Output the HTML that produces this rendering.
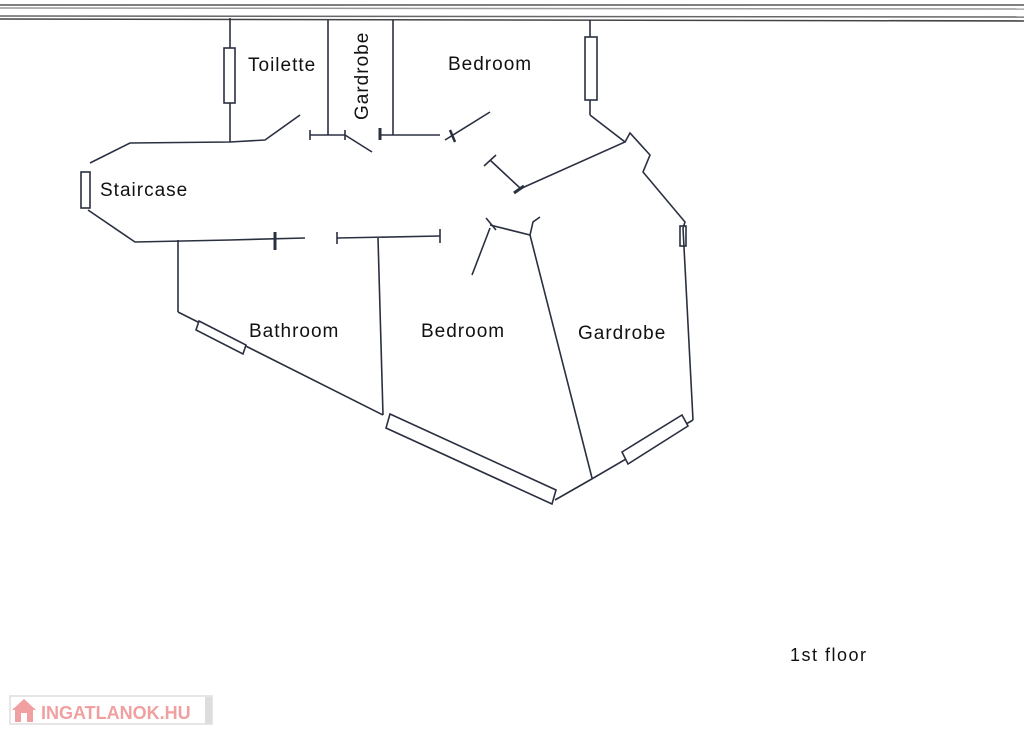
<!DOCTYPE html>
<html><head><meta charset="utf-8"><style>
html,body{margin:0;padding:0;background:#fff;}
svg{display:block;}
text{font-family:"Liberation Sans",sans-serif;fill:#111;}
.l{font-size:19px;letter-spacing:1px;}
</style></head><body>
<svg width="1024" height="735" viewBox="0 0 1024 735" xmlns="http://www.w3.org/2000/svg">
<g stroke="#2a3040" fill="none" stroke-width="1.6">
<line x1="0" y1="5" x2="1024" y2="5" stroke="#555"/>
<line x1="0" y1="8" x2="1024" y2="9" stroke="#999"/>
<line x1="0" y1="16" x2="1024" y2="17" stroke="#666"/>
<line x1="0" y1="19" x2="1024" y2="21" stroke="#444"/>
<line x1="230" y1="18" x2="230" y2="142"/>
<rect x="224" y="48" width="11" height="55" fill="#fff"/>
<line x1="328" y1="20" x2="328" y2="135"/>
<line x1="393" y1="20" x2="393" y2="135"/>
<line x1="590" y1="20" x2="590" y2="115"/>
<rect x="585" y="37" width="12" height="63" fill="#fff"/>
<polyline points="590,115 625,142 522,188"/>
<polyline points="625,142 630,133 650,155 643,172 685,222 683,228 693,420"/>
<rect x="680" y="226" width="6" height="20"/>
<line x1="490" y1="160" x2="520" y2="188"/>
<line x1="484" y1="166" x2="496" y2="155"/>
<line x1="514" y1="193" x2="524" y2="186" stroke-width="3"/>
<polyline points="300,115 265,140 230,142 130,143 90,163"/>
<rect x="81" y="172" width="9" height="36" fill="#fff"/>
<polyline points="88,210 135,242 230,240 305,238"/>
<line x1="275" y1="232" x2="275" y2="250" stroke-width="3"/>
<polyline points="337,238 440,236"/>
<line x1="337" y1="232" x2="337" y2="244"/>
<line x1="440" y1="229" x2="440" y2="243"/>
<line x1="310" y1="135" x2="328" y2="135"/><line x1="310" y1="130" x2="310" y2="140"/>
<line x1="328" y1="135" x2="345" y2="135"/><line x1="345" y1="130" x2="345" y2="140"/>
<line x1="345" y1="135" x2="372" y2="152"/>
<line x1="380" y1="135" x2="440" y2="135"/>
<line x1="380" y1="128" x2="380" y2="140" stroke-width="3"/>
<line x1="445" y1="140" x2="490" y2="112"/>
<line x1="450" y1="130" x2="455" y2="142" stroke-width="2.5"/>
<line x1="178" y1="240" x2="178" y2="312"/>
<line x1="178" y1="312" x2="383" y2="415"/>
<polygon points="199,321 246,345 243,354 196,330" fill="#fff"/>
<line x1="378" y1="238" x2="383" y2="415"/>
<polygon points="390,414 556,490 552,504 386,428" fill="#fff"/>
<polyline points="555,500 590,480 693,420"/>
<polygon points="622,452 682,415 688,426 628,464" fill="#fff"/>
<line x1="530" y1="235" x2="592" y2="478"/>
<polyline points="490,225 530,235 533,222 540,217"/>
<line x1="490" y1="228" x2="472" y2="275"/>
<line x1="486" y1="218" x2="496" y2="230"/>
</g>
<text class="l" x="248" y="71">Toilette</text>
<text class="l" transform="translate(368,120) rotate(-90)">Gardrobe</text>
<text class="l" x="448" y="70">Bedroom</text>
<text class="l" x="100" y="196">Staircase</text>
<text class="l" x="249" y="337">Bathroom</text>
<text class="l" x="421" y="337">Bedroom</text>
<text class="l" x="578" y="339">Gardrobe</text>
<text x="790" y="661" font-size="18" letter-spacing="1.5">1st floor</text>
<rect x="10" y="696" width="202" height="28" fill="#fff" stroke="#ddd" stroke-width="1.5"/>
<rect x="205" y="697" width="7" height="27" fill="#ddd"/>
<path d="M12 710 L24 699 L36 710 Z" fill="#f0a0a0"/>
<rect x="15" y="709" width="18" height="13" fill="#f0a0a0"/>
<rect x="21" y="713" width="6" height="9" fill="#fff"/>
<text x="41" y="719" font-size="18" font-weight="bold" style="fill:#f0a0a0">INGATLANOK.HU</text>
</svg>
</body></html>
